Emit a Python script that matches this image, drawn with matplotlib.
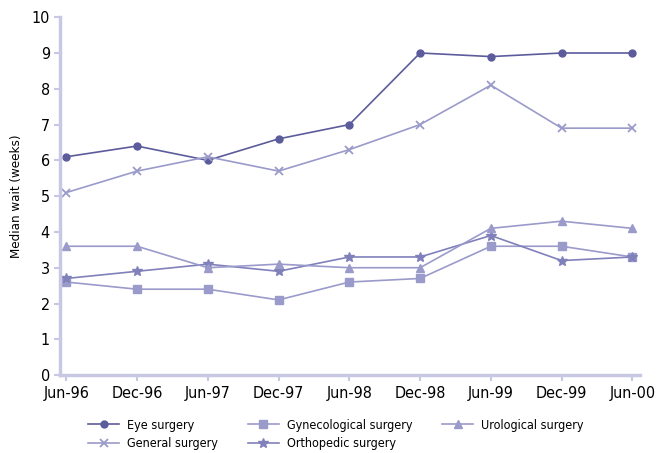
import matplotlib.pyplot as plt

plt.rcParams['font.family'] = ['DejaVu Sans']
plt.rcParams['font.stretch'] = 'condensed'

dates = ['Jun-96', 'Dec-96', 'Jun-97', 'Dec-97', 'Jun-98', 'Dec-98', 'Jun-99', 'Dec-99', 'Jun-00']

eye = [6.1, 6.4, 6.0, 6.6, 7.0, 9.0, 8.9, 9.0, 9.0]
general = [5.1, 5.7, 6.1, 5.7, 6.3, 7.0, 8.1, 6.9, 6.9]
gyn = [2.6, 2.4, 2.4, 2.1, 2.6, 2.7, 3.6, 3.6, 3.3]
uro = [3.6, 3.6, 3.0, 3.1, 3.0, 3.0, 4.1, 4.3, 4.1]
ortho = [2.7, 2.9, 3.1, 2.9, 3.3, 3.3, 3.9, 3.2, 3.3]

x = list(range(len(dates)))

fig = plt.figure(figsize=(6.62, 4.53), dpi=100)
ax = fig.add_axes([0.091, 0.172, 0.876, 0.79])

dark = '#5c5c9c'
light = '#9a9acb'

ax.plot(x, eye, color=dark, marker='o', ms=5, lw=1.2, label='Eye surgery')
ax.plot(x, general, color=light, marker='x', ms=6, mew=1.3, lw=1.2, label='General surgery')
ax.plot(x, gyn, color=light, marker='s', ms=5.5, lw=1.2, label='Gynecological surgery')
ax.plot(x, ortho, color='#8080bb', marker='*', ms=7.5, lw=1.2, label='Orthopedic surgery')
ax.plot(x, uro, color=light, marker='^', ms=5.5, lw=1.2, label='Urological surgery')

ax.set_xlim(-0.085, 8.11)
ax.set_ylim(0, 10)
ax.set_xticks(x)
ax.set_xticklabels(dates)
ax.set_yticks(range(11))
ax.set_ylabel('Median wait (weeks)', fontsize=9.5, labelpad=6)

for s in ['top', 'right']:
    ax.spines[s].set_visible(False)
for s in ['left', 'bottom']:
    ax.spines[s].set_color('#c8c8e4')
    ax.spines[s].set_linewidth(2.5)
ax.tick_params(colors='#c8c8e4', labelcolor='black', labelsize=11.5, length=4, width=1.5)

ax.legend(loc='upper center', bbox_to_anchor=(0.475, -0.09), ncol=3, frameon=False,
          fontsize=9, handlelength=2.5, columnspacing=2.4, labelspacing=0.45,
          handletextpad=0.6)

fig.savefig('out.png', dpi=100)
